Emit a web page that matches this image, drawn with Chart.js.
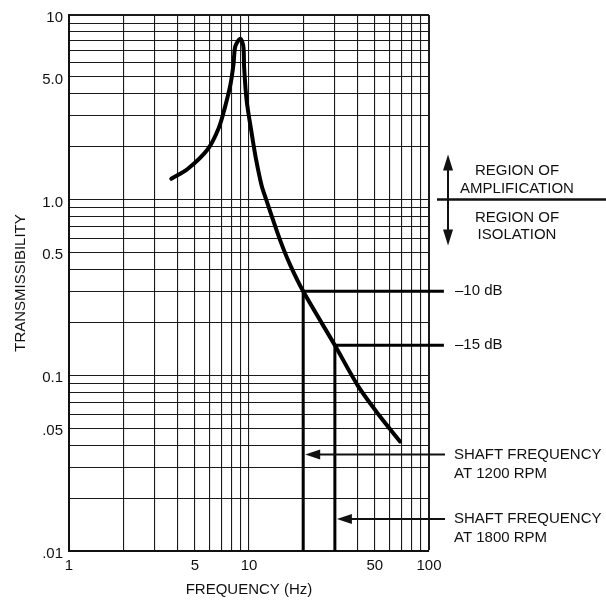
<!DOCTYPE html>
<html>
<head>
<meta charset="utf-8">
<title>Transmissibility</title>
<script src="https://cdn.jsdelivr.net/npm/chart.js@4.4.0/dist/chart.umd.min.js"></script>
<style>
  html, body { margin: 0; padding: 0; background: #fff; }
</style>
</head>
<body>
<canvas id="chart" width="606" height="600"></canvas>
<script>
// Transmissibility curve
const frequency = [3.7, 4.56, 5.9, 6.8, 7.35, 7.9, 8.2, 8.4, 8.95, 9.3, 9.4, 9.7, 10.3, 10.9, 11.75, 12.45, 13.45, 15.1, 17, 20, 30, 40.3, 52.3, 69];
const transmissibility = [1.31, 1.49, 1.93, 2.56, 3.34, 4.54, 5.87, 7.45, 8.2, 7.45, 5.6, 3.66, 2.45, 1.73, 1.2, 1.0, 0.79, 0.564, 0.42, 0.3, 0.148, 0.087, 0.06, 0.042];

// Shaft speeds and their dB levels
const shaftFrequency = [20, 30];
const dbLevel = [0.3, 0.148];
const dbLabels = ['–10 dB', '–15 dB'];
const arrowLevel = [0.0354, 0.0152];
const shaftLabels = [['SHAFT FREQUENCY', 'AT 1200 RPM'], ['SHAFT FREQUENCY', 'AT 1800 RPM']];

// Axis ticks
const xTickValues = [1, 2, 3, 4, 5, 6, 7, 8, 9, 10, 20, 30, 40, 50, 60, 70, 80, 90, 100];
const xTickLabels = { 1: '1', 5: '5', 10: '10', 50: '50', 100: '100' };
const yTickValues = [0.01, 0.02, 0.03, 0.04, 0.05, 0.06, 0.07, 0.08, 0.09,
  0.1, 0.2, 0.3, 0.4, 0.5, 0.6, 0.7, 0.8, 0.9,
  1, 2, 3, 4, 5, 6, 7, 8, 9, 10, 11.2];
const yTickLabels = { 0.01: '.01', 0.05: '.05', 0.1: '0.1', 0.5: '0.5', 1: '1.0', 5: '5.0', 10: ['10', ''] };

const FONT = '"Liberation Sans", Arial, sans-serif';
const INK = '#111';

function line(ctx, x1, y1, x2, y2) {
  ctx.beginPath();
  ctx.moveTo(x1, y1);
  ctx.lineTo(x2, y2);
  ctx.stroke();
}

function tri(ctx, pts) {
  ctx.beginPath();
  ctx.moveTo(pts[0], pts[1]);
  ctx.lineTo(pts[2], pts[3]);
  ctx.lineTo(pts[4], pts[5]);
  ctx.closePath();
  ctx.fill();
}

const annotations = {
  id: 'annotations',
  afterDatasetsDraw(chart) {
    const { ctx, chartArea: a, scales: { x, y } } = chart;
    ctx.save();
    ctx.fillStyle = INK;
    ctx.strokeStyle = INK;
    ctx.font = '15px ' + FONT;
    ctx.textBaseline = 'middle';
    ctx.textAlign = 'left';

    // dB labels
    dbLevel.forEach((v, i) => {
      ctx.fillText(dbLabels[i], a.right + 26, y.getPixelForValue(v));
    });

    // shaft frequency arrows
    ctx.lineWidth = 2;
    arrowLevel.forEach((v, i) => {
      const py = y.getPixelForValue(v);
      const px = x.getPixelForValue(shaftFrequency[i]) + 2;
      line(ctx, px + 12, py, a.right + 16, py);
      tri(ctx, [px, py, px + 15, py - 5, px + 15, py + 5]);
      shaftLabels[i].forEach((t, j) => ctx.fillText(t, a.right + 25, py + j * 19));
    });

    // region of amplification / isolation
    const p1 = y.getPixelForValue(1);
    ctx.lineWidth = 2.5;
    line(ctx, a.right + 8, p1, chart.width, p1);
    const ax = a.right + 19;
    ctx.lineWidth = 2;
    line(ctx, ax, p1 - 32, ax, p1 + 32);
    tri(ctx, [ax, p1 - 45, ax - 5, p1 - 29, ax + 5, p1 - 29]);
    tri(ctx, [ax, p1 + 46, ax - 5, p1 + 30, ax + 5, p1 + 30]);
    ctx.textAlign = 'center';
    const cx = a.right + 88;
    ctx.fillText('REGION OF', cx, p1 - 29);
    ctx.fillText('AMPLIFICATION', cx, p1 - 11);
    ctx.fillText('REGION OF', cx, p1 + 18);
    ctx.fillText('ISOLATION', cx, p1 + 35);
    ctx.restore();
  }
};

const edgeWidth = (edge) => (c) => (c.tick && c.tick.value === edge ? 2 : 1.1);

new Chart(document.getElementById('chart'), {
  type: 'line',
  data: {
    datasets: [{
      data: frequency.map((f, i) => ({ x: f, y: transmissibility[i] })),
      borderColor: '#000',
      borderWidth: 4,
      pointRadius: 0,
      tension: 0.3,
      borderCapStyle: 'round',
      borderJoinStyle: 'round'
    },
    ...shaftFrequency.map((f, i) => ({
      data: [{ x: f, y: dbLevel[i] }, { x: f, y: 0.01 }],
      borderColor: '#000',
      borderWidth: 3,
      pointRadius: 0
    })),
    ...shaftFrequency.map((f, i) => ({
      data: [{ x: f, y: dbLevel[i] }, { x: 121, y: dbLevel[i] }],
      borderColor: '#000',
      borderWidth: 3,
      pointRadius: 0,
      clip: false
    }))]
  },
  options: {
    responsive: false,
    animation: false,
    events: [],
    layout: { padding: { top: 15, right: 177, left: 0, bottom: 0 } },
    plugins: { legend: { display: false }, tooltip: { enabled: false } },
    scales: {
      x: {
        type: 'logarithmic',
        min: 1,
        max: 100,
        afterBuildTicks: axis => { axis.ticks = xTickValues.map(v => ({ value: v })); },
        afterFit: axis => { axis.height = 49; },
        ticks: {
          autoSkip: false,
          maxRotation: 0,
          padding: 6,
          color: INK,
          font: { family: FONT, size: 15 },
          callback: v => xTickLabels[v] || ''
        },
        grid: { color: '#1a1a1a', lineWidth: edgeWidth(100), drawTicks: false },
        border: { color: INK, width: 2 },
        title: { display: true, text: 'FREQUENCY (Hz)', color: INK, font: { family: FONT, size: 15 }, padding: { top: 0, bottom: 1 } }
      },
      y: {
        type: 'logarithmic',
        min: 0.01,
        max: 11.2,
        afterBuildTicks: axis => { axis.ticks = yTickValues.map(v => ({ value: v })); },
        afterFit: axis => { axis.width = 69; },
        ticks: {
          autoSkip: false,
          padding: 6,
          labelOffset: 3,
          color: INK,
          font: { family: FONT, size: 15 },
          callback: v => yTickLabels[v] || ''
        },
        grid: { color: '#1a1a1a', lineWidth: edgeWidth(11.2), drawTicks: false },
        border: { color: INK, width: 2 },
        title: { display: true, text: 'TRANSMISSIBILITY', color: INK, font: { family: FONT, size: 15 }, padding: { top: 12, bottom: 0 } }
      }
    }
  },
  plugins: [annotations]
});
</script>
</body>
</html>
